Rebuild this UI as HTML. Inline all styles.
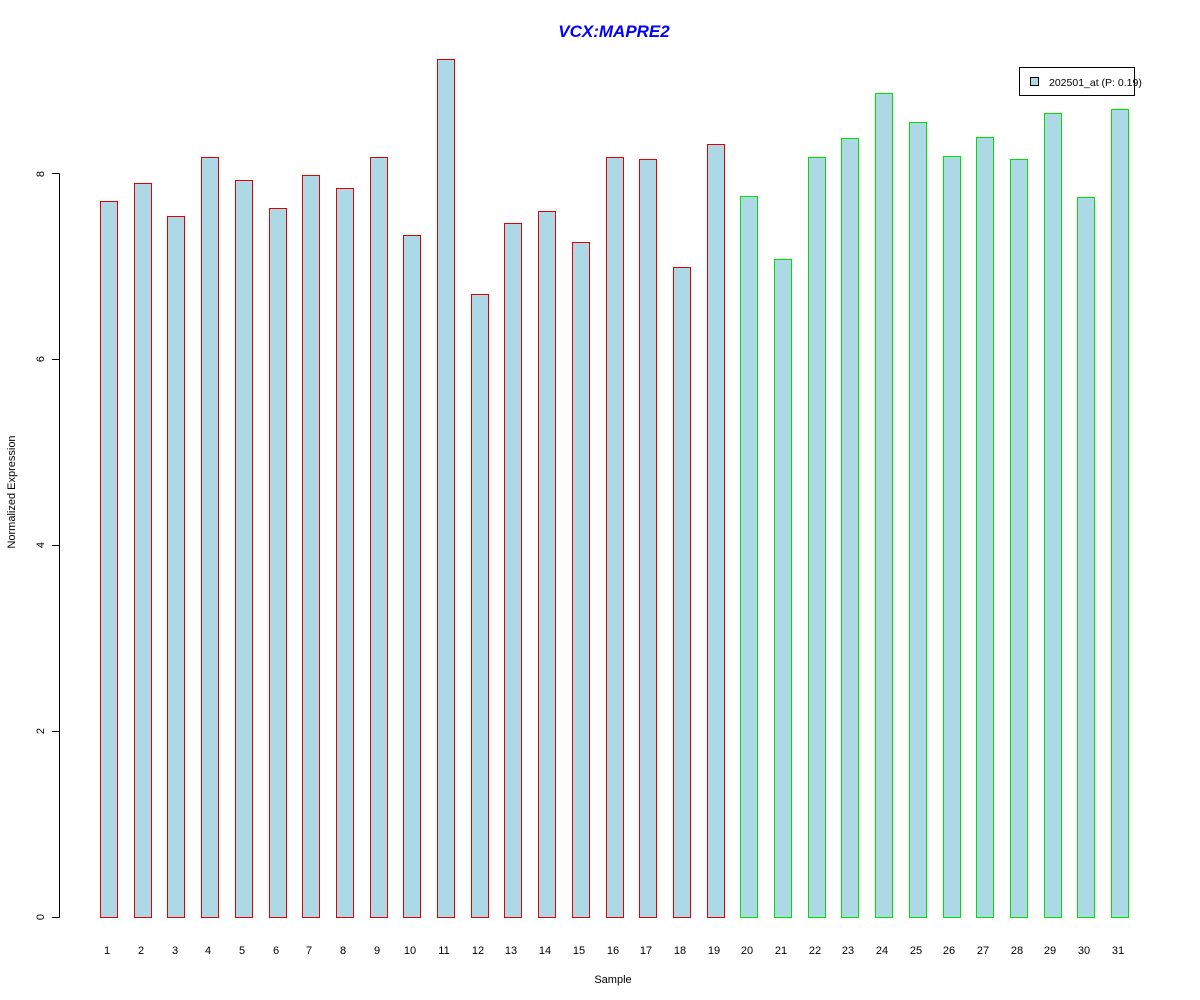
<!DOCTYPE html>
<html><head><style>body{margin:0;background:#fff}svg{display:block}text{font-family:"Liberation Sans",Arial,sans-serif}</style></head><body>
<svg width="1200" height="1000" xmlns="http://www.w3.org/2000/svg">
<rect width="1200" height="1000" fill="#fff"/>
<text x="614" y="37" text-anchor="middle" font-size="17" font-weight="bold" font-style="italic" fill="#0000ff">VCX:MAPRE2</text>
<path d="M59.5 917.5V173.5M52 917.5H59.5M52 731.5H59.5M52 545.5H59.5M52 359.5H59.5M52 173.5H59.5" stroke="#000" fill="none"/>
<g font-size="11" text-anchor="middle" fill="#000">
<text transform="translate(44,917) rotate(-90)">0</text>
<text transform="translate(44,731) rotate(-90)">2</text>
<text transform="translate(44,545) rotate(-90)">4</text>
<text transform="translate(44,359) rotate(-90)">6</text>
<text transform="translate(44,174) rotate(-90)">8</text>
<text transform="translate(15,492) rotate(-90)">Normalized Expression</text>
<text x="613" y="983">Sample</text>
</g>
<g fill="#e00000">
<rect x="100" y="201" width="18" height="717"/>
<rect x="134" y="183" width="18" height="735"/>
<rect x="167" y="216" width="18" height="702"/>
<rect x="201" y="157" width="18" height="761"/>
<rect x="235" y="180" width="18" height="738"/>
<rect x="269" y="208" width="18" height="710"/>
<rect x="302" y="175" width="18" height="743"/>
<rect x="336" y="188" width="18" height="730"/>
<rect x="370" y="157" width="18" height="761"/>
<rect x="403" y="235" width="18" height="683"/>
<rect x="437" y="59" width="18" height="859"/>
<rect x="471" y="294" width="18" height="624"/>
<rect x="504" y="223" width="18" height="695"/>
<rect x="538" y="211" width="18" height="707"/>
<rect x="572" y="242" width="18" height="676"/>
<rect x="606" y="157" width="18" height="761"/>
<rect x="639" y="159" width="18" height="759"/>
<rect x="673" y="267" width="18" height="651"/>
<rect x="707" y="144" width="18" height="774"/>
</g>
<g fill="#00e000">
<rect x="740" y="196" width="18" height="722"/>
<rect x="774" y="259" width="18" height="659"/>
<rect x="808" y="157" width="18" height="761"/>
<rect x="841" y="138" width="18" height="780"/>
<rect x="875" y="93" width="18" height="825"/>
<rect x="909" y="122" width="18" height="796"/>
<rect x="943" y="156" width="18" height="762"/>
<rect x="976" y="137" width="18" height="781"/>
<rect x="1010" y="159" width="18" height="759"/>
<rect x="1044" y="113" width="18" height="805"/>
<rect x="1077" y="197" width="18" height="721"/>
<rect x="1111" y="109" width="18" height="809"/>
</g>
<g fill="#add8e6">
<rect x="101" y="202" width="16" height="715"/>
<rect x="135" y="184" width="16" height="733"/>
<rect x="168" y="217" width="16" height="700"/>
<rect x="202" y="158" width="16" height="759"/>
<rect x="236" y="181" width="16" height="736"/>
<rect x="270" y="209" width="16" height="708"/>
<rect x="303" y="176" width="16" height="741"/>
<rect x="337" y="189" width="16" height="728"/>
<rect x="371" y="158" width="16" height="759"/>
<rect x="404" y="236" width="16" height="681"/>
<rect x="438" y="60" width="16" height="857"/>
<rect x="472" y="295" width="16" height="622"/>
<rect x="505" y="224" width="16" height="693"/>
<rect x="539" y="212" width="16" height="705"/>
<rect x="573" y="243" width="16" height="674"/>
<rect x="607" y="158" width="16" height="759"/>
<rect x="640" y="160" width="16" height="757"/>
<rect x="674" y="268" width="16" height="649"/>
<rect x="708" y="145" width="16" height="772"/>
<rect x="741" y="197" width="16" height="720"/>
<rect x="775" y="260" width="16" height="657"/>
<rect x="809" y="158" width="16" height="759"/>
<rect x="842" y="139" width="16" height="778"/>
<rect x="876" y="94" width="16" height="823"/>
<rect x="910" y="123" width="16" height="794"/>
<rect x="944" y="157" width="16" height="760"/>
<rect x="977" y="138" width="16" height="779"/>
<rect x="1011" y="160" width="16" height="757"/>
<rect x="1045" y="114" width="16" height="803"/>
<rect x="1078" y="198" width="16" height="719"/>
<rect x="1112" y="110" width="16" height="807"/>
</g>
<g font-size="11" text-anchor="middle">
<text x="107" y="954">1</text><text x="141" y="954">2</text><text x="175" y="954">3</text><text x="208" y="954">4</text><text x="242" y="954">5</text><text x="276" y="954">6</text><text x="309" y="954">7</text><text x="343" y="954">8</text><text x="377" y="954">9</text><text x="410" y="954">10</text><text x="444" y="954">11</text><text x="478" y="954">12</text><text x="511" y="954">13</text><text x="545" y="954">14</text><text x="579" y="954">15</text><text x="613" y="954">16</text><text x="646" y="954">17</text><text x="680" y="954">18</text><text x="714" y="954">19</text><text x="747" y="954">20</text><text x="781" y="954">21</text><text x="815" y="954">22</text><text x="848" y="954">23</text><text x="882" y="954">24</text><text x="916" y="954">25</text><text x="949" y="954">26</text><text x="983" y="954">27</text><text x="1017" y="954">28</text><text x="1050" y="954">29</text><text x="1084" y="954">30</text><text x="1118" y="954">31</text>
</g>
<rect x="1019.5" y="67.5" width="115" height="28" fill="#fff" stroke="#000"/>
<rect x="1030.5" y="77.5" width="8" height="8" fill="#add8e6" stroke="#000"/>
<text x="1049" y="86" font-size="10.5">202501_at (P: 0.19)</text>
</svg>
</body></html>
